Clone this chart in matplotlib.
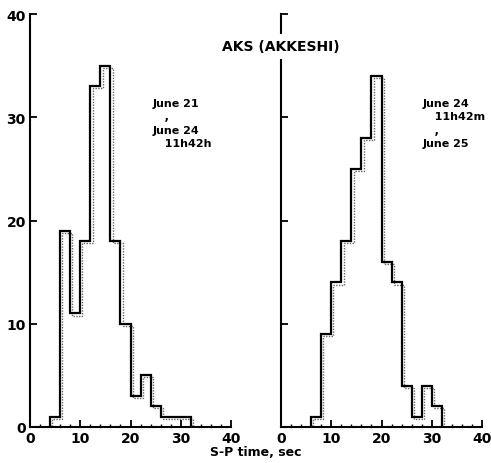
import numpy as np
import matplotlib
matplotlib.use("Agg")
import matplotlib.pyplot as plt
from matplotlib.transforms import offset_copy

# S-P time histograms at AKS (Akkeshi), 2 sec bins
edges_a = [4, 6, 8, 10, 12, 14, 16, 18, 20, 22, 24, 26, 28, 30, 32]
counts_a = [1, 19, 11, 18, 33, 35, 18, 10, 3, 5, 2, 1, 1, 1]
edges_b = [6, 8, 10, 12, 14, 16, 18, 20, 22, 24, 26, 28, 30, 32]
counts_b = [1, 9, 14, 18, 25, 28, 34, 16, 14, 4, 1, 4, 2]

xticks = [0, 10, 20, 30, 40]
yticks = [0, 10, 20, 30, 40]
label_a = "June 21\n   ,\nJune 24\n   11h42h"
label_b = "June 24\n   11h42m\n   ,\nJune 25"

plt.rcParams['font.family'] = ['DejaVu Sans']
plt.rcParams['font.weight'] = 'bold'

fig = plt.figure(figsize=(4.91, 4.64), dpi=100)
ax1 = fig.add_axes([0.0611, 0.0776, 0.4094, 0.890])
ax2 = fig.add_axes([0.5723, 0.0776, 0.4094, 0.890])

for ax, edges, counts in [(ax1, edges_a, counts_a), (ax2, edges_b, counts_b)]:
    # dotted shadow outline slightly offset, as in the print
    shadow = offset_copy(ax.transData, fig=fig, x=1.6, y=-1.5, units='points')
    ax.stairs(counts, edges, baseline=0, color='#666666', lw=1.0,
              linestyle=(0, (1, 1)), transform=shadow)
    ax.stairs(counts, edges, baseline=0, color='black', lw=1.6)
    ax.set_xlim(0, 40)
    ax.set_ylim(0, 40)
    ax.set_xticks(xticks)
    ax.set_xticks(np.arange(0, 41, 2), minor=True)
    ax.set_yticks(yticks)
    for s in ['top', 'right']:
        ax.spines[s].set_visible(False)
    for s in ['left', 'bottom']:
        ax.spines[s].set_linewidth(1.5)
    ax.tick_params(axis='both', direction='in', length=5, width=1.3,
                   labelsize=10, pad=3)
    ax.tick_params(axis='x', which='minor', direction='in', length=2.5, width=1)
    for t in ax.get_xticklabels() + ax.get_yticklabels():
        t.set_fontweight('bold')

ax2.set_yticklabels([])

ax1.text(24.4, 31.9, label_a, fontsize=8, fontweight='bold', va='top',
         linespacing=1.45)
ax2.text(28.2, 31.9, label_b, fontsize=8, fontweight='bold', va='top',
         linespacing=1.45)

fig.text(0.572, 0.898, "AKS (AKKESHI)", fontsize=10, fontweight='bold',
         ha='center', va='center',
         bbox=dict(facecolor='white', edgecolor='none', pad=4))
fig.text(0.52, 0.025, "S-P time, sec", fontsize=9, fontweight='bold',
         ha='center', va='center')

fig.savefig("out.png", dpi=100)
